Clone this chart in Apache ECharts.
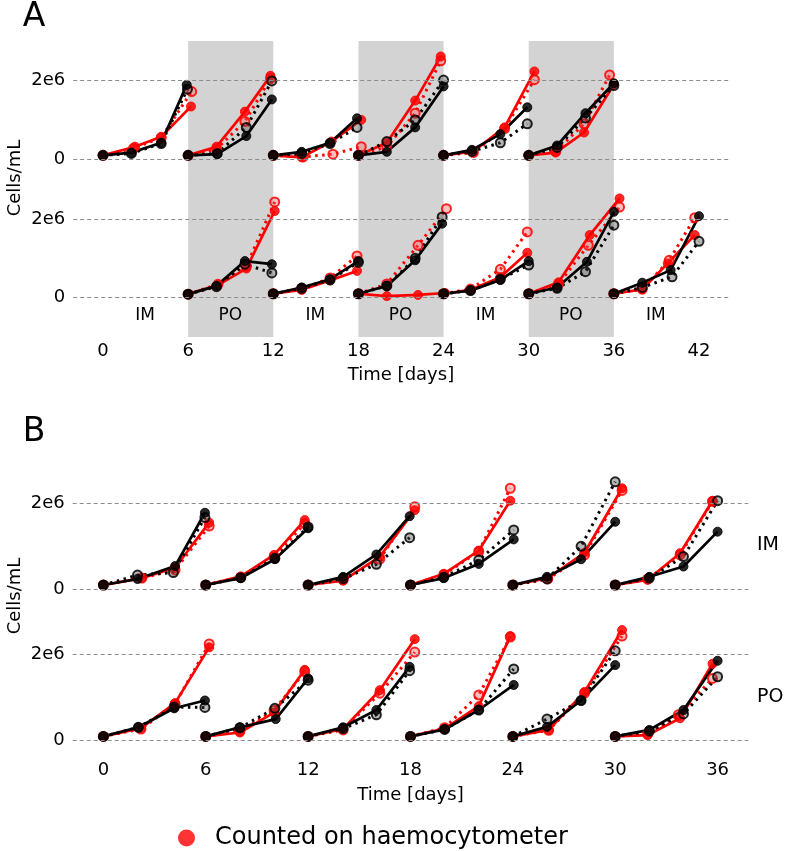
<!DOCTYPE html>
<html><head><meta charset="utf-8">
<script src="https://cdn.jsdelivr.net/npm/echarts@6/dist/echarts.min.js"></script>
<style>html,body{margin:0;padding:0;background:#fff}#c{width:786px;height:851px}</style>
</head><body><div id="c"></div>
<script>
// ---------------- DATA (values in millions of cells/mL; times in days) ----------------
const panelATicks = [0, 6, 12, 18, 24, 30, 36, 42];
const panelBTicks = [0, 6, 12, 18, 24, 30, 36];
const yTicks = [0, 2e6];
const yTickLabels = ['0', '2e6'];
const panelAPhaseDays = [3, 9, 15, 21, 27, 33, 39];
const panelAPhases = ['IM', 'PO', 'IM', 'PO', 'IM', 'PO', 'IM'];
const shadedRanges = [[6, 12], [18, 24], [30, 36]];
const panelBRowLabels = ['IM', 'PO'];
const legendLabel = 'Counted on haemocytometer';

// Panel A, top row
const aTopRedSolid = [
  [[0,0.1],[2.25,0.32],[4.1,0.57],[6.2,1.34]],
  [[6,0.1],[8,0.32],[10,1.21],[11.8,2.12]],
  [[12,0.1],[14,0.05],[16.1,0.45],[18.2,1.0]],
  [[18,0.1],[20,0.42],[22,1.49],[23.8,2.61]],
  [[24,0.1],[26.1,0.2],[28.3,0.81],[30.4,2.23]],
  [[30,0.1],[31.9,0.17],[33.9,0.68],[36,1.9]],
  null
];
const aTopRedDotted = [
  [[0,0.1],[2.15,0.28],[4.1,0.55],[6.25,1.72]],
  [[6,0.1],[8,0.26],[10,0.96],[11.8,2.05]],
  [[12,0.1],[14.1,0.06],[16.2,0.13],[18.2,0.32]],
  [[18,0.1],[20,0.32],[22,1.17],[23.8,2.5]],
  [[24,0.1],[26.1,0.17],[28.3,0.78],[30.4,2.02]],
  [[30,0.1],[31.9,0.2],[33.9,0.9],[35.7,2.14]],
  null
];
const aTopBlackSolid = [
  [[0,0.1],[2.0,0.17],[4.1,0.42],[5.9,1.89]],
  [[6,0.1],[8.05,0.13],[10.1,0.59],[11.9,1.52]],
  [[12,0.1],[14,0.19],[16,0.42],[17.9,1.04]],
  [[18,0.1],[20,0.19],[22,0.81],[24,1.85]],
  [[24,0.1],[26,0.24],[28,0.64],[29.9,1.32]],
  [[30,0.1],[32,0.35],[34,1.17],[36,1.93]],
  null
];
const aTopBlackDotted = [
  [[0,0.1],[2.0,0.15],[4.1,0.4],[5.95,1.78]],
  [[6,0.1],[8.05,0.15],[10.1,0.81],[11.9,1.99]],
  [[12,0.1],[14,0.15],[16,0.4],[17.9,0.81]],
  [[18,0.1],[20,0.45],[22,1.0],[24,2.01]],
  [[24,0.1],[26,0.2],[28,0.42],[29.9,0.9]],
  [[30,0.1],[32,0.3],[34,1.05],[36,1.87]],
  null
];

// Panel A, bottom row
const aBotRedSolid = [
  null,
  [[6,0.09],[8.1,0.32],[10.1,0.74],[12.1,2.2]],
  [[12,0.1],[14,0.2],[16,0.44],[17.9,0.68]],
  [[18,0.1],[20,0.04],[22.2,0.07],[24.1,0.12]],
  [[24,0.1],[25.9,0.2],[28,0.52],[29.9,1.14]],
  [[30,0.1],[32.1,0.39],[34.3,1.59],[36.4,2.52]],
  [[36,0.1],[38,0.21],[39.8,0.87],[41.7,1.59]]
];
const aBotRedDotted = [
  null,
  [[6,0.09],[8.1,0.34],[10.1,0.8],[12.1,2.43]],
  [[12,0.1],[14,0.22],[16,0.5],[17.9,1.06]],
  [[18,0.1],[20,0.35],[22.2,1.33],[24.2,2.26]],
  [[24,0.1],[25.9,0.22],[28,0.72],[29.9,1.67]],
  [[30,0.1],[32.1,0.35],[34.2,1.33],[36.4,2.3]],
  [[36,0.1],[38,0.22],[39.9,0.95],[41.7,2.03]]
];
const aBotBlackSolid = [
  null,
  [[6,0.09],[8,0.3],[10,0.93],[11.9,0.85]],
  [[12,0.1],[14,0.26],[16,0.47],[18,0.93]],
  [[18,0.1],[20,0.3],[22,0.95],[23.9,1.88]],
  [[24,0.1],[25.9,0.18],[28,0.45],[30,0.93]],
  [[30,0.1],[32,0.26],[34.1,0.91],[36,2.18]],
  [[36,0.1],[38,0.38],[40,0.7],[42,2.07]]
];
const aBotBlackDotted = [
  null,
  [[6,0.09],[8,0.28],[10,0.85],[11.9,0.63]],
  [[12,0.1],[14,0.24],[16,0.45],[18,0.9]],
  [[18,0.1],[20,0.3],[22,1.0],[23.9,2.05]],
  [[24,0.1],[25.9,0.18],[28,0.47],[30,0.83]],
  [[30,0.1],[32,0.24],[34,0.66],[36,1.84]],
  [[36,0.1],[38,0.26],[40.1,0.53],[42,1.43]]
];

// Panel B, top row (IM)
const bTopRedSolid = [
  [[0,0.1],[2.25,0.26],[4.2,0.5],[6.2,1.55]],
  [[6,0.1],[8.05,0.3],[10,0.8],[11.8,1.61]],
  [[12,0.1],[14.05,0.2],[16.2,0.76],[18.25,1.84]],
  [[18,0.1],[19.95,0.36],[22,0.9],[23.85,2.06]],
  [[24,0.1],[26.05,0.26],[28.2,0.85],[30.4,2.35]],
  [[30,0.1],[31.9,0.22],[33.8,0.84],[35.7,2.06]]
];
const bTopRedDotted = [
  [[0,0.1],[2.25,0.26],[4.2,0.45],[6.2,1.47]],
  [[6,0.1],[8.05,0.28],[10,0.75],[11.8,1.53]],
  [[12,0.1],[14.05,0.22],[16.2,0.7],[18.25,1.92]],
  [[18,0.1],[19.95,0.34],[22,0.88],[23.85,2.35]],
  [[24,0.1],[26.05,0.24],[28.2,0.8],[30.4,2.3]],
  [[30,0.1],[31.9,0.24],[33.8,0.8],[35.7,2.04]]
];
const bTopBlackSolid = [
  [[0,0.1],[2.0,0.24],[4.2,0.54],[5.95,1.78]],
  [[6,0.1],[8.05,0.26],[10.05,0.7],[12,1.42]],
  [[12,0.1],[14.05,0.29],[16,0.81],[17.95,1.7]],
  [[18,0.1],[19.95,0.26],[22,0.59],[24.05,1.16]],
  [[24,0.1],[26,0.29],[28,0.7],[30,1.57]],
  [[30,0.1],[32,0.29],[34,0.53],[36,1.34]]
];
const bTopBlackDotted = [
  [[0,0.1],[2.0,0.33],[4.1,0.39],[5.95,1.67]],
  [[6,0.1],[8.05,0.27],[10.05,0.72],[12,1.45]],
  [[12,0.1],[14.05,0.25],[16,0.58],[17.95,1.2]],
  [[18,0.1],[19.95,0.28],[22,0.68],[24.05,1.38]],
  [[24,0.1],[26,0.24],[28,1.0],[30,2.5]],
  [[30,0.1],[32,0.26],[34,0.76],[36,2.06]]
];

// Panel B, bottom row (PO)
const bBotRedSolid = [
  [[0,0.1],[2.2,0.29],[4.2,0.87],[6.2,2.16]],
  [[6,0.1],[8,0.19],[10,0.65],[11.8,1.64]],
  [[12,0.1],[14.05,0.27],[16.2,1.17],[18.25,2.35]],
  [[18,0.1],[20,0.28],[22,0.8],[23.85,2.42]],
  [[24,0.1],[26.1,0.25],[28.2,1.13],[30.4,2.56]],
  [[30,0.1],[31.9,0.13],[33.8,0.52],[35.7,1.78]]
];
const bBotRedDotted = [
  [[0,0.1],[2.2,0.27],[4.2,0.85],[6.2,2.24]],
  [[6,0.1],[8,0.22],[10,0.7],[11.8,1.6]],
  [[12,0.1],[14.05,0.25],[16.2,1.1],[18.25,2.05]],
  [[18,0.1],[20,0.3],[22,1.06],[23.85,2.4]],
  [[24,0.1],[26.1,0.24],[28.2,1.1],[30.4,2.42]],
  [[30,0.1],[31.9,0.15],[33.7,0.6],[35.7,1.44]]
];
const bBotBlackSolid = [
  [[0,0.1],[2.05,0.31],[4.15,0.75],[5.95,0.93]],
  [[6,0.1],[8,0.31],[10.1,0.5],[12,1.44]],
  [[12,0.1],[14.05,0.31],[16,0.71],[17.95,1.71]],
  [[18,0.1],[20,0.26],[22,0.71],[24.05,1.29]],
  [[24,0.1],[26,0.32],[28,0.93],[30,1.75]],
  [[30,0.1],[32,0.25],[34,0.71],[36,1.85]]
];
const bBotBlackDotted = [
  [[0,0.1],[2.05,0.31],[4.15,0.78],[5.95,0.77]],
  [[6,0.1],[8,0.3],[10.05,0.75],[12,1.4]],
  [[12,0.1],[14.05,0.28],[16,0.6],[17.95,1.62]],
  [[18,0.1],[20,0.26],[22,0.71],[24.05,1.66]],
  [[24,0.1],[26,0.5],[28,0.93],[30,2.08]],
  [[30,0.1],[32,0.22],[34,0.62],[36,1.48]]
];

// ---------------- STYLE / LAYOUT ----------------
const FONT = 'DejaVu Sans';
const RED = '#ff0000', BLACK = '#000000';
const series = [];

function addLines(segs, axis, color, dotted) {
  segs.forEach(seg => {
    if (!seg) return;
    series.push({
      type: 'line', xAxisIndex: axis, yAxisIndex: axis, z: 3, silent: true,
      data: seg.map(p => [p[0], p[1] * 1e6]),
      symbol: 'circle', symbolSize: 9, showSymbol: true, clip: false,
      lineStyle: { color: color, width: dotted ? 3 : 2.7, type: dotted ? [2.5, 4.5] : 'solid' },
      itemStyle: dotted
        ? { color: color === RED ? 'rgba(255,90,90,0.45)' : 'rgba(70,70,70,0.45)', borderColor: color, borderWidth: 2, opacity: 0.85 }
        : { color: color, borderColor: color, borderWidth: 1, opacity: 0.85 }
    });
  });
}

const gridDefs = [
  { left: 73.2, width: 655.6, top: 41.1, height: 139.0, ymin: -0.528e6, ymax: 3e6, xmin: -2.1, xmax: 44.1 },
  { left: 73.2, width: 655.6, top: 179.5, height: 157.6, ymin: -1e6, ymax: 3e6, xmin: -2.1, xmax: 44.1 },
  { left: 72.7, width: 675.6, top: 468.9, height: 150.5, ymin: -0.7e6, ymax: 2.8e6, xmin: -1.8, xmax: 37.8 },
  { left: 72.7, width: 675.6, top: 619.7, height: 138.3, ymin: -0.4e6, ymax: 2.8e6, xmin: -1.8, xmax: 37.8 }
];

// shading (panel A) and dashed reference lines
[0, 1].forEach(i => series.push({
  type: 'line', xAxisIndex: i, yAxisIndex: i, data: [], z: 0, silent: true,
  markArea: { silent: true, itemStyle: { color: '#d3d3d3', opacity: 1 },
    data: shadedRanges.map(r => [{ xAxis: r[0] }, { xAxis: r[1] }]) }
}));
[0, 1, 2, 3].forEach(i => series.push({
  type: 'line', xAxisIndex: i, yAxisIndex: i, data: [], z: 1, silent: true,
  markLine: { silent: true, symbol: ['none', 'none'], label: { show: false },
    lineStyle: { color: '#8c8c8c', type: [4, 3], width: 1 },
    data: yTicks.map(v => ({ yAxis: v })) }
}));

addLines(aTopRedDotted, 0, RED, true);
addLines(aTopRedSolid, 0, RED, false);
addLines(aTopBlackDotted, 0, BLACK, true);
addLines(aTopBlackSolid, 0, BLACK, false);
addLines(aBotRedDotted, 1, RED, true);
addLines(aBotRedSolid, 1, RED, false);
addLines(aBotBlackDotted, 1, BLACK, true);
addLines(aBotBlackSolid, 1, BLACK, false);
addLines(bTopRedDotted, 2, RED, true);
addLines(bTopRedSolid, 2, RED, false);
addLines(bTopBlackDotted, 2, BLACK, true);
addLines(bTopBlackSolid, 2, BLACK, false);
addLines(bBotRedDotted, 3, RED, true);
addLines(bBotRedSolid, 3, RED, false);
addLines(bBotBlackDotted, 3, BLACK, true);
addLines(bBotBlackSolid, 3, BLACK, false);

// IM / PO phase labels in panel A
series.push({
  type: 'scatter', xAxisIndex: 1, yAxisIndex: 1, symbolSize: 1, silent: true, z: 4,
  itemStyle: { color: 'rgba(0,0,0,0)', opacity: 1 },
  data: panelAPhaseDays.map((d, i) => [d, -0.46e6, panelAPhases[i]]),
  label: { show: true, position: [0, 0], align: 'center', verticalAlign: 'middle',
    formatter: p => p.data[2], opacity: 1,
    fontFamily: FONT, fontSize: 17, color: '#000', textBorderWidth: 0 }
});

// legend series
series.push({ name: legendLabel, type: 'scatter', xAxisIndex: 3, yAxisIndex: 3, data: [],
  itemStyle: { color: RED } });

const xAxes = gridDefs.map((g, i) => ({
  type: 'value', gridIndex: i, min: g.xmin, max: g.xmax,
  axisLine: { show: false }, axisTick: { show: false }, splitLine: { show: false },
  axisLabel: (i === 1 || i === 3) ? {
    show: true, customValues: i === 1 ? panelATicks : panelBTicks,
    fontFamily: FONT, fontSize: 18, color: '#000', margin: i === 1 ? 5 : 3
  } : { show: false },
  name: (i === 1 || i === 3) ? 'Time [days]' : '',
  nameLocation: 'middle', nameGap: i === 1 ? 29 : 28,
  nameTextStyle: { fontFamily: FONT, fontSize: 18, color: '#000' }
}));
const yAxes = gridDefs.map((g, i) => ({
  type: 'value', gridIndex: i, min: g.ymin, max: g.ymax,
  axisLine: { show: false }, axisTick: { show: false }, splitLine: { show: false },
  axisLabel: { show: true, customValues: yTicks,
    formatter: v => yTickLabels[yTicks.indexOf(v)] ?? '',
    fontFamily: FONT, fontSize: 18, color: '#000', margin: 8 }
}));

const txt = (x, y, text, size, extra) => Object.assign({
  type: 'text', x: x, y: y, silent: true,
  style: { text: text, fontFamily: FONT, fontSize: size, fill: '#000', align: 'center', verticalAlign: 'middle' }
}, extra || {});

const option = {
  animation: false,
  backgroundColor: '#fff',
  grid: gridDefs.map(g => ({ left: g.left, width: g.width, top: g.top, height: g.height })),
  xAxis: xAxes,
  yAxis: yAxes,
  legend: {
    data: [{ name: legendLabel, icon: 'circle' }],
    left: 173, top: 821, itemWidth: 17, itemHeight: 17,
    textStyle: { fontFamily: FONT, fontSize: 24, color: '#000', padding: [0, 0, 0, 15] },
    selectedMode: false
  },
  graphic: [
    txt(34, 17, 'A', 33),
    txt(34, 432, 'B', 33),
    txt(15, 178, 'Cells/mL', 18, { rotation: Math.PI / 2 }),
    txt(15, 596, 'Cells/mL', 18, { rotation: Math.PI / 2 }),
    { type: 'text', x: 757, y: 545, silent: true, style: { text: panelBRowLabels[0], fontFamily: FONT, fontSize: 19, fill: '#000', align: 'left', verticalAlign: 'middle' } },
    { type: 'text', x: 757, y: 697, silent: true, style: { text: panelBRowLabels[1], fontFamily: FONT, fontSize: 19, fill: '#000', align: 'left', verticalAlign: 'middle' } }
  ],
  series: series
};

const chart = echarts.init(document.getElementById('c'), null, { renderer: 'canvas' });
chart.setOption(option);
</script>
</body></html>
